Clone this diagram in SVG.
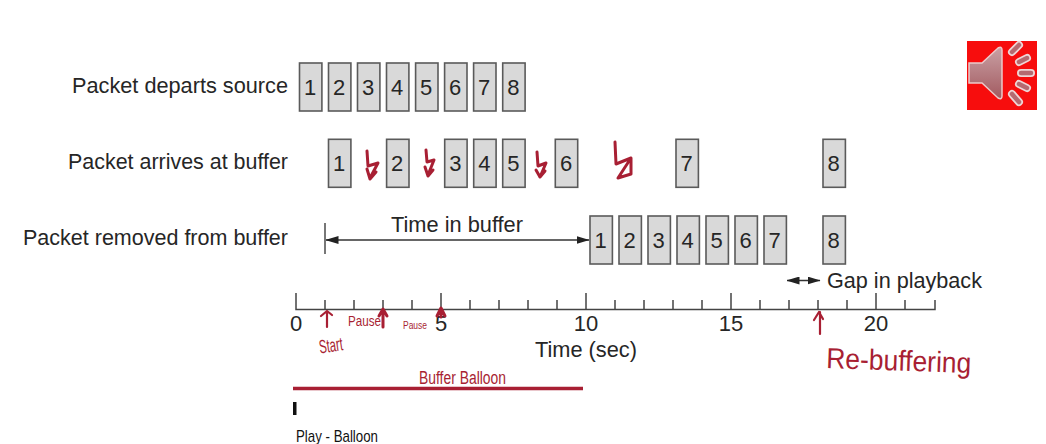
<svg xmlns="http://www.w3.org/2000/svg" width="1046" height="444" viewBox="0 0 1046 444">
<style>
text{font-family:"Liberation Sans",Arial,sans-serif;fill:#262626}
.lb{font-size:21.7px}
.n{font-size:22px;text-anchor:middle}
.box{fill:#d9d9d9;stroke:#5a5a5a;stroke-width:1.6}
.ax{stroke:#444;stroke-width:1.5;fill:none}
.ink{fill:none;stroke:#a81f33;stroke-width:2.2;stroke-linecap:round;stroke-linejoin:round}
.hw{fill:#a81f33}
.bl{fill:#111}
</style>
<defs>
<marker id="ah" markerWidth="13" markerHeight="8" refX="12.5" refY="4" orient="auto-start-reverse" markerUnits="userSpaceOnUse"><path d="M0 0L13 4L0 8Z" fill="#222"/></marker>
<linearGradient id="cone" x1="0" y1="0" x2="0" y2="1"><stop offset="0" stop-color="#c9a0a4"/><stop offset="1" stop-color="#a25a60"/></linearGradient>
<g id="p"><rect class="box" x="0" y="0" width="22.4" height="48"/></g>
</defs>
<rect width="1046" height="444" fill="#fff"/>

<g id="row-labels">
<text class="lb" x="72" y="93" textLength="216" lengthAdjust="spacingAndGlyphs">Packet departs source</text>
<text class="lb" x="68" y="169" textLength="220" lengthAdjust="spacingAndGlyphs">Packet arrives at buffer</text>
<text class="lb" x="23" y="245" textLength="265" lengthAdjust="spacingAndGlyphs">Packet removed from buffer</text>
</g>

<g id="departs">
<g id="d1"><use href="#p" x="299.5" y="63"/><text class="n" x="310" y="95">1</text></g>
<g id="d2"><use href="#p" x="328.5" y="63"/><text class="n" x="339" y="95">2</text></g>
<g id="d3"><use href="#p" x="357.5" y="63"/><text class="n" x="368" y="95">3</text></g>
<g id="d4"><use href="#p" x="386.5" y="63"/><text class="n" x="397" y="95">4</text></g>
<g id="d5"><use href="#p" x="415.6" y="63"/><text class="n" x="426.200" y="95">5</text></g>
<g id="d6"><use href="#p" x="444.6" y="63"/><text class="n" x="455.200" y="95">6</text></g>
<g id="d7"><use href="#p" x="473.6" y="63"/><text class="n" x="484.200" y="95">7</text></g>
<g id="d8"><use href="#p" x="502.7" y="63"/><text class="n" x="513.300" y="95">8</text></g>
</g>

<g id="arrives">
<g id="a1"><use href="#p" x="328.5" y="139.3"/><text class="n" x="339" y="171">1</text></g>
<g id="a2"><use href="#p" x="386.6" y="139.3"/><text class="n" x="397.200" y="171">2</text></g>
<g id="a3"><use href="#p" x="444.7" y="139.3"/><text class="n" x="455.300" y="171">3</text></g>
<g id="a4"><use href="#p" x="473.7" y="139.3"/><text class="n" x="484.300" y="171">4</text></g>
<g id="a5"><use href="#p" x="502.7" y="139.3"/><text class="n" x="513.300" y="171">5</text></g>
<g id="a6"><use href="#p" x="555.3" y="139.3"/><text class="n" x="566" y="171">6</text></g>
<g id="a7"><use href="#p" x="676" y="139.3"/><text class="n" x="686.600" y="171">7</text></g>
<g id="a8"><use href="#p" x="823" y="139.3"/><text class="n" x="833.600" y="171">8</text></g>
</g>

<g id="removed">
<g id="r1"><use href="#p" x="590" y="216"/><text class="n" x="600.600" y="248">1</text></g>
<g id="r2"><use href="#p" x="619" y="216"/><text class="n" x="629.600" y="248">2</text></g>
<g id="r3"><use href="#p" x="648" y="216"/><text class="n" x="658.600" y="248">3</text></g>
<g id="r4"><use href="#p" x="677" y="216"/><text class="n" x="687.600" y="248">4</text></g>
<g id="r5"><use href="#p" x="706" y="216"/><text class="n" x="716.600" y="248">5</text></g>
<g id="r6"><use href="#p" x="735" y="216"/><text class="n" x="745.600" y="248">6</text></g>
<g id="r7"><use href="#p" x="764" y="216"/><text class="n" x="774.600" y="248">7</text></g>
<g id="r8"><use href="#p" x="823" y="216"/><text class="n" x="833.600" y="248">8</text></g>
</g>

<g id="connectors">
<line x1="325" y1="223" x2="325" y2="254" stroke="#555" stroke-width="1.6"/>
<line x1="326" y1="240" x2="589" y2="240" stroke="#333" stroke-width="1.3" marker-start="url(#ah)" marker-end="url(#ah)"/>
<line x1="787" y1="280.500" x2="820" y2="280.500" stroke="#333" stroke-width="1.3" marker-start="url(#ah)" marker-end="url(#ah)"/>
</g>
<text class="lb" x="391" y="232" textLength="132" lengthAdjust="spacingAndGlyphs">Time in buffer</text>
<text class="lb" x="827" y="288" textLength="155" lengthAdjust="spacingAndGlyphs">Gap in playback</text>

<g id="axis">
<path class="ax" d="M296 293V309.500H935V300M325 300V309.500M354 300V309.500M383 300V309.500M412 300V309.500M441 293V309.500M470 300V309.500M499 300V309.500M528 300V309.500M557 300V309.500M586 293V309.500M615 300V309.500M644 300V309.500M673 300V309.500M702 300V309.500M731 293V309.500M760 300V309.500M789 300V309.500M818 300V309.500M847 300V309.500M876 293V309.500M905 300V309.500"/>
<text class="n" x="296" y="331">0</text>
<text class="n" x="441" y="331">5</text>
<text class="n" x="586" y="331">10</text>
<text class="n" x="731" y="331">15</text>
<text class="n" x="876" y="331">20</text>
<text class="lb" x="586" y="357" text-anchor="middle" textLength="102" lengthAdjust="spacingAndGlyphs">Time (sec)</text>
</g>

<g id="speaker">
<rect x="967" y="41" width="70" height="69" fill="#f70d0d"/>
<path d="M969 63H982L998 48Q1002 46 1002 50V96Q1002 100 998 98L982 83H969Z" fill="url(#cone)" stroke="#eccaca" stroke-width="1.500"/>
<g stroke="#eed5d5" stroke-width="8" stroke-linecap="round"><line x1="1012" y1="52" x2="1019" y2="45"/><line x1="1019" y1="62" x2="1027" y2="58"/><line x1="1021" y1="73" x2="1031" y2="73"/><line x1="1019" y1="84" x2="1027" y2="88"/><line x1="1012" y1="94" x2="1019" y2="102"/></g>
<g stroke="#b56a70" stroke-width="4.500" stroke-linecap="round"><line x1="1012" y1="52" x2="1019" y2="45"/><line x1="1019" y1="62" x2="1027" y2="58"/><line x1="1021" y1="73" x2="1031" y2="73"/><line x1="1019" y1="84" x2="1027" y2="88"/><line x1="1012" y1="94" x2="1019" y2="102"/></g>
</g>

<g id="annotations">
<path class="ink" style="stroke-width:3" d="M367 151L368 166L378 163L370 178M367 169L370 179L376 172"/>
<path class="ink" style="stroke-width:3" d="M426 150L427 162L434 160L428 175M425 167L428 176L433 170"/>
<path class="ink" style="stroke-width:3" d="M537 152L538 166L546 163L540 177M536 170L540 177L545 171"/>
<path class="ink" style="stroke-width:3" d="M615 142L616 164L631 158L618 178L631 174V158"/>
<path class="ink" d="M327 327V312M321 316L327 311L332 315"/>
<path class="ink" style="stroke-width:3" d="M383 327V310M379 316L383 309L387 316"/>
<path class="ink" style="stroke-width:3" d="M441 317V310M437 316L441 308L445 316"/>
<path class="ink" d="M820 334V312M814 320L819 312L823 319"/>
<line x1="293" y1="388.500" x2="583" y2="388.500" stroke="#a81f33" stroke-width="3.500"/>
<text class="hw" x="319" y="352" font-size="19" textLength="24" lengthAdjust="spacingAndGlyphs" transform="rotate(-8 330 346)">Start</text>
<text class="hw" x="348" y="326" font-size="14" textLength="33" lengthAdjust="spacingAndGlyphs">Pause</text>
<text class="hw" x="403" y="329" font-size="11.500" textLength="24" lengthAdjust="spacingAndGlyphs">Pause</text>
<text class="hw" x="419" y="384" font-size="18" textLength="87" lengthAdjust="spacingAndGlyphs">Buffer Balloon</text>
<text class="hw" x="826" y="368" font-size="29" textLength="145" lengthAdjust="spacingAndGlyphs" transform="rotate(2 826 368)">Re-buffering</text>
<rect x="293" y="402" width="3.500" height="13" class="bl"/>
<text x="296" y="442" font-size="17" textLength="82" lengthAdjust="spacingAndGlyphs" style="fill:#111">Play - Balloon</text>
</g>
</svg>
